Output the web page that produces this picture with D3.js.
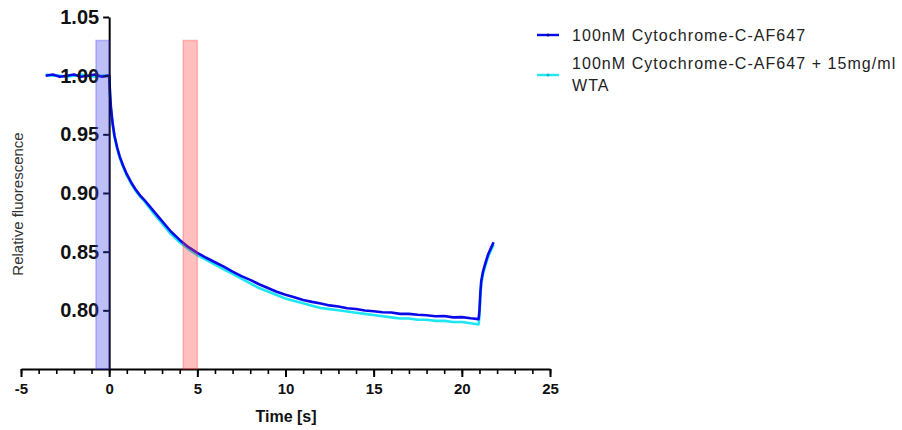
<!DOCTYPE html>
<html>
<head>
<meta charset="utf-8">
<script src="https://cdn.jsdelivr.net/npm/d3@7"></script>
<style>
  html, body { margin: 0; padding: 0; background: #fff; }
  svg { display: block; font-family: "Liberation Sans", Arial, sans-serif; }
</style>
</head>
<body>
<svg id="chart" width="902" height="430"></svg>
<script>
// Time points (s) shared by both traces
const time = [
  -3.6, -3.2, -2.8, -2.4, -2.0, -1.6, -1.2, -0.8, -0.4, -0.1, 0,
  0.05, 0.1, 0.2, 0.3, 0.45, 0.6, 0.8, 1.0, 1.25, 1.5, 1.75, 2.0,
  2.5, 3, 3.5, 4, 4.5, 5, 5.5, 6, 6.5, 7, 7.5, 8, 8.5, 9, 9.5, 10,
  10.5, 11, 11.5, 12, 12.5, 13, 13.5, 14, 14.5, 15, 15.5, 16, 16.5, 17,
  17.5, 18, 18.5, 19, 19.5, 20, 20.5, 20.95,
  21.0, 21.05, 21.1, 21.2, 21.35, 21.5, 21.65, 21.8
];

// Relative fluorescence, 100nM Cytochrome-C-AF647
const cytC = [
  1.000, 1.001, 0.999, 1.000, 1.001, 0.999, 1.000, 1.001, 0.999, 1.000, 1.000,
  0.985, 0.973, 0.959, 0.949, 0.939, 0.931, 0.923, 0.916, 0.909, 0.903, 0.898, 0.894,
  0.885, 0.876, 0.8672, 0.860, 0.8538, 0.849, 0.8448, 0.841, 0.8372, 0.833, 0.8292, 0.826,
  0.8222, 0.819, 0.8158, 0.8132, 0.8112, 0.8088, 0.8072, 0.8058, 0.8042, 0.8032, 0.8018,
  0.8012, 0.7998, 0.7992, 0.7984, 0.7982, 0.797, 0.797, 0.7962, 0.7958, 0.795, 0.7952,
  0.794, 0.7942, 0.7932, 0.7925,
  0.800, 0.815, 0.825, 0.833, 0.841, 0.848, 0.853, 0.858
];

// Relative fluorescence, 100nM Cytochrome-C-AF647 + 15mg/ml WTA
const cytCWta = [
  1.001, 1.000, 1.000, 0.999, 1.000, 1.001, 1.000, 0.999, 1.000, 1.000, 1.000,
  0.984, 0.972, 0.958, 0.948, 0.938, 0.930, 0.922, 0.915, 0.908, 0.902, 0.897, 0.893,
  0.883, 0.874, 0.865, 0.858, 0.852, 0.847, 0.843, 0.839, 0.835, 0.831, 0.827, 0.823,
  0.819, 0.816, 0.813, 0.810, 0.808, 0.806, 0.804, 0.802, 0.801, 0.800, 0.799,
  0.798, 0.797, 0.796, 0.795, 0.794, 0.793, 0.793, 0.792, 0.792, 0.791, 0.791,
  0.790, 0.790, 0.789, 0.788,
  0.795, 0.811, 0.822, 0.831, 0.839, 0.846, 0.851, 0.856
];

const seriesNames = ["100nM Cytochrome-C-AF647", "100nM Cytochrome-C-AF647 + 15mg/ml WTA"];
const seriesColors = ["#0a0ae8", "#1ee6f2"];

// Shaded time windows
const windowStart = [-0.75, 4.2];
const windowEnd = [0, 5.0];
const windowTop = 1.03;
const windowFill = ["#3c3ce6", "#ff3c3c"];

const xTicks = [-5, 0, 5, 10, 15, 20, 25];
const xMinorTicks = d3.range(-5, 26, 1);
const yTicks = [0.80, 0.85, 0.90, 0.95, 1.00, 1.05];

const svg = d3.select("#chart");
const x = d3.scaleLinear().domain([-5, 25]).range([21, 550]);
const y = d3.scaleLinear().domain([0.75, 1.05]).range([369, 17]);

// Traces (WTA underneath)
const line = d3.line().x(d => x(d[0])).y(d => y(d[1]));
const traces = [cytC, cytCWta];
[1, 0].forEach(i => {
  svg.append("path")
    .datum(time.map((t, k) => [t, traces[i][k]]))
    .attr("fill", "none")
    .attr("stroke", seriesColors[i])
    .attr("stroke-width", 2.6)
    .attr("stroke-linejoin", "round")
    .attr("d", line);
});

// X axis: minor then major ticks
const xAxisG = svg.append("g").attr("transform", `translate(0,${y(0.75)})`);
xAxisG.append("g")
  .call(d3.axisBottom(x).tickValues(xMinorTicks).tickSize(5).tickFormat(""))
  .call(g => g.select(".domain").remove())
  .call(g => g.selectAll("line").attr("stroke", "#000").attr("stroke-width", 1.6));
xAxisG.append("g")
  .call(d3.axisBottom(x).tickValues(xTicks).tickSize(8).tickSizeOuter(0).tickPadding(6).tickFormat(d => String(d)))
  .call(g => g.select(".domain").attr("stroke", "#000").attr("stroke-width", 2))
  .call(g => g.selectAll("line").attr("stroke", "#000").attr("stroke-width", 2))
  .call(g => g.selectAll("text")
    .attr("fill", "#111")
    .style("font-size", "15px")
    .style("font-weight", "bold"));

// Y axis drawn at t = 0
const yAxisG = svg.append("g").attr("transform", `translate(${x(0)},0)`);
yAxisG.call(d3.axisLeft(y).tickValues(yTicks).tickSize(6).tickSizeOuter(0).tickPadding(4).tickFormat(d3.format(".2f")))
  .call(g => g.select(".domain").attr("stroke", "#000").attr("stroke-width", 2))
  .call(g => g.selectAll("line").attr("stroke", "#000").attr("stroke-width", 2))
  .call(g => g.selectAll("text")
    .attr("fill", "#111")
    .style("font-size", "20px")
    .style("font-weight", "bold"));

// Shaded windows on top, translucent
windowStart.forEach((s, i) => {
  svg.append("rect")
    .attr("x", x(s))
    .attr("y", y(windowTop))
    .attr("width", x(windowEnd[i]) - x(s))
    .attr("height", y(0.75) - y(windowTop))
    .attr("fill", windowFill[i])
    .attr("fill-opacity", 0.33)
    .attr("stroke", windowFill[i])
    .attr("stroke-opacity", 0.3)
    .attr("stroke-width", 1.5);
});

// Axis titles
svg.append("text")
  .attr("x", 286).attr("y", 422)
  .attr("text-anchor", "middle")
  .style("font-size", "16px").style("font-weight", "bold")
  .attr("fill", "#111")
  .text("Time [s]");

svg.append("text")
  .attr("transform", "translate(23,204) rotate(-90)")
  .attr("text-anchor", "middle")
  .style("font-size", "15px")
  .attr("fill", "#333")
  .text("Relative fluorescence");

// Legend
const legend = svg.append("g");
const legendRows = [
  { y: 35, lines: [seriesNames[0]], lineY: 35 },
  { y: 63, lines: ["100nM Cytochrome-C-AF647 + 15mg/ml", "WTA"], lineY: 75 }
];
legendRows.forEach((row, i) => {
  legend.append("line")
    .attr("x1", 537).attr("x2", 559)
    .attr("y1", row.lineY).attr("y2", row.lineY)
    .attr("stroke", seriesColors[i]).attr("stroke-width", 2.4);
  legend.append("circle")
    .attr("cx", 548).attr("cy", row.lineY).attr("r", 1.5)
    .attr("fill", i === 0 ? "#0000a0" : "#10b8c8");
  row.lines.forEach((txt, k) => {
    legend.append("text")
      .attr("x", 572).attr("y", row.y + k * 22)
      .attr("dy", "0.35em")
      .style("font-size", "16px")
      .style("letter-spacing", "1.05px")
      .attr("fill", "#222")
      .text(txt);
  });
});
</script>
</body>
</html>
